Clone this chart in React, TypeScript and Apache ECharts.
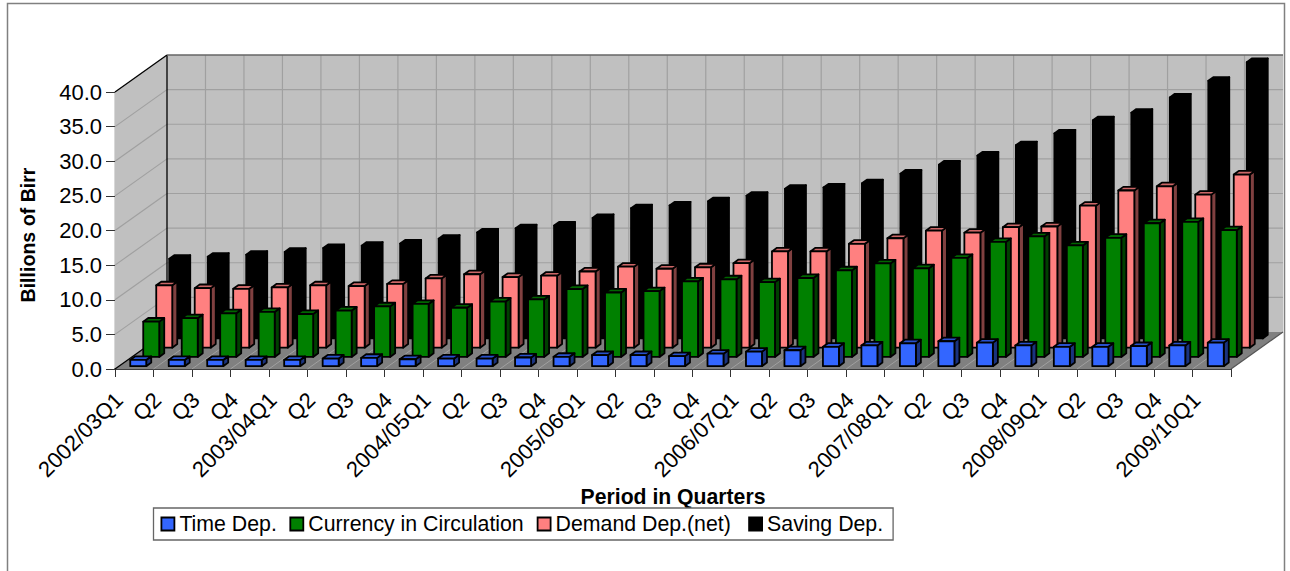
import React, { useEffect, useRef } from "react";
import * as echarts from "echarts";

const categories = [
  "2002/03Q1", "Q2", "Q3", "Q4", "2003/04Q1", "Q2", "Q3", "Q4", "2004/05Q1", "Q2", "Q3", "Q4",
  "2005/06Q1", "Q2", "Q3", "Q4", "2006/07Q1", "Q2", "Q3", "Q4", "2007/08Q1", "Q2", "Q3", "Q4",
  "2008/09Q1", "Q2", "Q3", "Q4", "2009/10Q1",
];
const timeDep = [0.9, 0.9, 0.9, 0.9, 0.9, 1.1, 1.2, 1.0, 1.1, 1.1, 1.25, 1.35, 1.6, 1.6, 1.45, 1.8, 2.1, 2.3, 2.8, 3.0, 3.3, 3.6, 3.4, 3.0, 2.8, 2.8, 2.9, 3.0, 3.4];
const currency = [5.1, 5.6, 6.3, 6.5, 6.2, 6.7, 7.3, 7.65, 7.1, 8.0, 8.3, 9.8, 9.3, 9.5, 10.9, 11.2, 10.8, 11.4, 12.5, 13.5, 12.8, 14.3, 16.6, 17.4, 16.1, 17.2, 19.3, 19.5, 18.3];
const demand = [9.0, 8.6, 8.5, 8.7, 9.0, 8.9, 9.2, 10.0, 10.6, 10.2, 10.4, 11.0, 11.7, 11.4, 11.6, 12.2, 13.9, 13.9, 15.0, 15.8, 16.9, 16.6, 17.4, 17.5, 20.5, 22.7, 23.3, 22.1, 25.0];
const saving = [11.5, 11.8, 12.1, 12.5, 13.05, 13.4, 13.7, 14.4, 15.3, 15.9, 16.3, 17.4, 18.8, 19.2, 19.8, 20.6, 21.6, 21.8, 22.4, 23.8, 25.1, 26.4, 27.9, 29.6, 31.5, 32.6, 34.8, 37.2, 39.9];

const FONT = "Liberation Sans";
const DEPTH_X = 52;
const DEPTH_Y = 37;
const BAR_W = 16;
const BAR_DX = 5;
const BAR_DY = 3.6;

const rows = [
  { name: "Time Dep.", values: timeDep, front: "#3366FF", top: "#2851CC", side: "#1A337F", slot: 110 },
  { name: "Currency in Circulation", values: currency, front: "#008000", top: "#006600", side: "#004000", slot: 228.4 },
  { name: "Demand Dep.(net)", values: demand, front: "#FF8080", top: "#CC6666", side: "#804040", slot: 192.6 },
  { name: "Saving Dep.", values: saving, front: "#000000", top: "#000000", side: "#000000", slot: 126 },
];

function barRenderer(rowIndex: number, style: { front: string; top: string; side: string }) {
  return (_: any, api: any) => {
    const base = api.coord([api.value(0), 0]);
    const head = api.coord([api.value(0), api.value(1)]);
    const ox = ((rowIndex + 0.5) * DEPTH_X) / 4 - BAR_DX / 2;
    const oy = -((rowIndex + 0.5) * DEPTH_Y) / 4 + BAR_DY / 2;
    const l = base[0] + ox - BAR_W / 2;
    const r = l + BAR_W;
    const b = base[1] + oy;
    const t = head[1] + oy;
    const stroke = { stroke: "#000", lineWidth: 1.8, lineJoin: "round" };
    return {
      type: "group",
      children: [
        { type: "polygon", shape: { points: [[r, b], [r + BAR_DX, b - BAR_DY], [r + BAR_DX, t - BAR_DY], [r, t]] }, style: { fill: style.side, ...stroke } },
        { type: "polygon", shape: { points: [[l, t], [r, t], [r + BAR_DX, t - BAR_DY], [l + BAR_DX, t - BAR_DY]] }, style: { fill: style.top, ...stroke } },
        { type: "rect", shape: { x: l, y: t, width: BAR_W, height: b - t }, style: { fill: style.front, ...stroke } },
      ],
    };
  };
}

function wallRenderer(_: any, api: any) {
  const step = api.size([1, 0])[0];
  const o = api.coord([0, 0]);
  const x0 = o[0] - step / 2;
  const y0 = o[1];
  const yTop = api.coord([0, 40])[1];
  const x1 = api.coord([categories.length - 1, 0])[0] + step / 2;
  const grid = { stroke: "#A0A0A0", lineWidth: 1.2 };
  const line = (x1_: number, y1_: number, x2_: number, y2_: number, style: any) => ({
    type: "line",
    shape: { x1: x1_, y1: y1_, x2: x2_, y2: y2_ },
    style,
  });
  const children: any[] = [
    { type: "polygon", shape: { points: [[x0, yTop], [x0 + DEPTH_X, yTop - DEPTH_Y], [x0 + DEPTH_X, y0 - DEPTH_Y], [x0, y0]] }, style: { fill: "#C0C0C0" } },
    { type: "polygon", shape: { points: [[x0 + DEPTH_X, yTop - DEPTH_Y], [x1 + DEPTH_X, yTop - DEPTH_Y], [x1 + DEPTH_X, y0 - DEPTH_Y], [x0 + DEPTH_X, y0 - DEPTH_Y]] }, style: { fill: "#C0C0C0" } },
    { type: "polygon", shape: { points: [[x0, y0], [x0 + DEPTH_X, y0 - DEPTH_Y], [x1 + DEPTH_X, y0 - DEPTH_Y], [x1, y0]] }, style: { fill: "#808080" } },
  ];
  for (let v = 5; v <= 35; v += 5) {
    const y = api.coord([0, v])[1];
    children.push(line(x0, y, x0 + DEPTH_X, y - DEPTH_Y, grid));
    children.push(line(x0 + DEPTH_X, y - DEPTH_Y, x1 + DEPTH_X, y - DEPTH_Y, grid));
  }
  for (let i = 1; i < categories.length; i++) {
    const x = x0 + i * step;
    children.push(line(x + DEPTH_X, yTop - DEPTH_Y, x + DEPTH_X, y0 - DEPTH_Y, grid));
    children.push(line(x, y0, x + DEPTH_X, y0 - DEPTH_Y, { stroke: "#A0A0A0", lineWidth: 1 }));
  }
  const edge = { stroke: "#000", lineWidth: 1.3 };
  children.push(line(x0, yTop, x0 + DEPTH_X, yTop - DEPTH_Y, edge));
  children.push(line(x0 + DEPTH_X, yTop - DEPTH_Y, x0 + DEPTH_X, y0 - DEPTH_Y, edge));
  children.push(line(x0, y0, x0 + DEPTH_X, y0 - DEPTH_Y, edge));
  children.push(line(x0 + DEPTH_X, yTop - DEPTH_Y, x1 + DEPTH_X, yTop - DEPTH_Y, { stroke: "#666", lineWidth: 1.5 }));
  children.push(line(x1, y0, x1 + DEPTH_X, y0 - DEPTH_Y, { stroke: "#555", lineWidth: 1.2 }));
  return { type: "group", children };
}

export default function App() {
  const ref = useRef<HTMLDivElement>(null);
  useEffect(() => {
    const chart = echarts.init(ref.current!, undefined, { renderer: "svg" });
    const legendText = { fontFamily: FONT, fontSize: 21.3, color: "#000" };
    const rich: any = {};
    rows.forEach((r, i) => {
      rich["t" + i] = { ...legendText, width: r.slot, lineHeight: 22, height: 22 };
    });
    chart.setOption({
      animation: false,
      backgroundColor: "#fff",
      textStyle: { fontFamily: FONT },
      grid: { left: 115, right: 59, top: 92, bottom: 202, containLabel: false },
      graphic: [
        {
          type: "polyline",
          silent: true,
          shape: { points: [[7.5, 575], [7.5, 3.5], [1284.5, 3.5], [1284.5, 575]] },
          style: { stroke: "#808080", lineWidth: 1.5, fill: "none" },
          z: 100,
        },
      ],
      legend: {
        left: 153.5,
        top: 508,
        orient: "horizontal",
        padding: [5, 0, 5, 7],
        itemGap: 0,
        itemWidth: 13,
        itemHeight: 13,
        borderColor: "#666",
        borderWidth: 1.3,
        backgroundColor: "#fff",
        selectedMode: false,
        textStyle: { ...legendText, rich },
        formatter: (name: string) => {
          const i = rows.findIndex((r) => r.name === name);
          return `{t${i}|${name}}`;
        },
        data: rows.map((r) => ({
          name: r.name,
          icon: "rect",
          itemStyle: { color: r.front, borderColor: "#000", borderWidth: 1.8 },
        })),
      },
      xAxis: {
        type: "category",
        data: categories,
        name: "Period in Quarters",
        nameLocation: "middle",
        nameGap: 127,
        nameMoveOverlap: false,
        nameTextStyle: { fontFamily: FONT, fontSize: 21.2, fontWeight: "bold", color: "#000", verticalAlign: "middle" },
        axisLine: { show: true, lineStyle: { color: "#000", width: 1.5 } },
        axisTick: { show: true, length: 8, alignWithLabel: false, lineStyle: { color: "#333", width: 1 } },
        splitLine: { show: false },
        axisLabel: {
          interval: 0,
          rotate: 45,
          margin: 12,
          align: "right",
          verticalAlign: "middle",
          fontFamily: FONT,
          fontSize: 22,
          color: "#000",
          hideOverlap: false,
          padding: [0, 21.6, 43, 0],
        },
      },
      yAxis: {
        type: "value",
        min: 0,
        max: 40,
        interval: 5,
        name: "Billions of Birr",
        nameLocation: "middle",
        nameGap: 87,
        nameRotate: 90,
        nameMoveOverlap: false,
        nameTextStyle: { fontFamily: FONT, fontSize: 19.6, fontWeight: "bold", color: "#000", verticalAlign: "middle", padding: [0, 9, 0, 0] },
        axisLine: { show: true, lineStyle: { color: "#000", width: 1.3 } },
        axisTick: { show: true, length: 9, lineStyle: { color: "#333", width: 1 } },
        splitLine: { show: false },
        axisLabel: { margin: 13, fontFamily: FONT, fontSize: 22, color: "#000", padding: [0, 0, 2, 0], formatter: (v: number) => v.toFixed(1) },
      },
      series: [
        {
          type: "custom",
          name: "walls",
          silent: true,
          z: 1,
          renderItem: wallRenderer,
          data: [[0, 0]],
          encode: { x: 0, y: 1 },
        },
        ...rows.map((r, i) => ({
          type: "custom",
          name: r.name,
          z: 6 - i,
          silent: true,
          renderItem: barRenderer(i, r),
          data: r.values.map((v, k) => [k, v]),
          encode: { x: 0, y: 1 },
          itemStyle: { color: r.front },
        })),
      ],
    });
    return () => chart.dispose();
  }, []);
  return <div ref={ref} style={{ position: "absolute", left: 0, top: 0, width: 1290, height: 571 }} />;
}
